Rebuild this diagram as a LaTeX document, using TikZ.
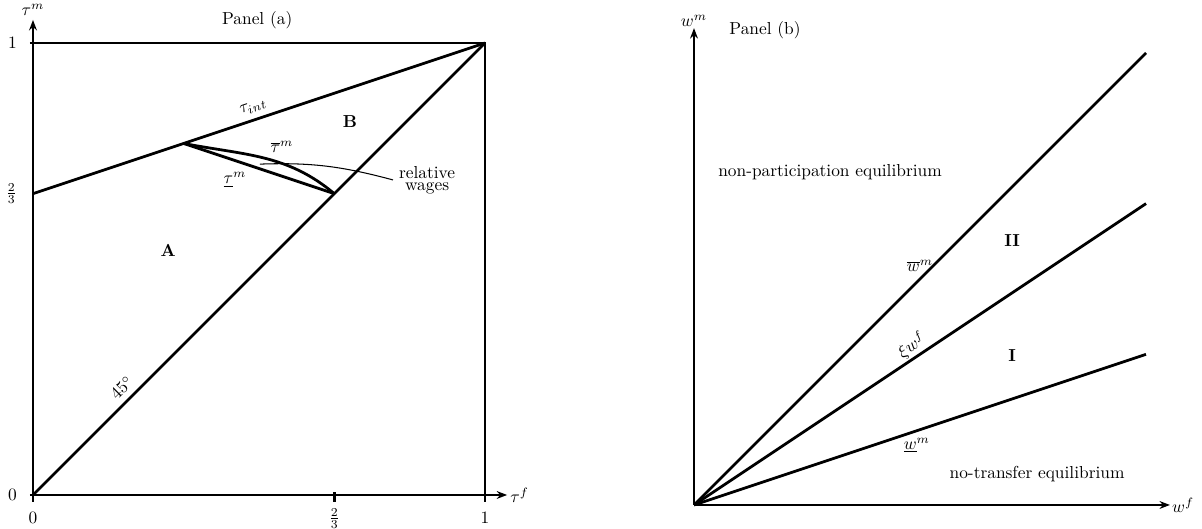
\documentclass[tikz,border=0pt]{standalone}
\usepackage{amsmath,amssymb}
\usetikzlibrary{arrows.meta}

\begin{document}
\begin{tikzpicture}[x=9.15cm, y=9.15cm,
  every node/.style={font=\normalsize},
  bold line/.style={line width=1.6pt},
  axis/.style={line width=1.6pt, -{Stealth[length=6pt,width=4.5pt]}},
  tick/.style={line width=1.2pt}]
  \useasboundingbox (-0.0730,-0.0752) rectangle (2.5863,1.0951);

  % Panel (a): axes
  \coordinate (O) at (0,0);
  \draw[axis] (O) -- (1.049,0) node[right, inner sep=1pt] (tauf) {$\tau^f$};
  \draw[axis] (O) -- (0,1.051) node[above, inner sep=1.5pt] (taum) {$\tau^m$};
  % ticks
  \draw[tick] (0,0) -- (0,-0.0155);
  \draw[tick, line width=2pt] (2/3,0.0066) -- (2/3,-0.0155);
  \draw[tick] (-0.007,0) -- (0,0);
  \draw[tick] (-0.007,1) -- (0,1);
  \node[anchor=base] (x0) at (0,-0.062) {$0$};
  \node[anchor=base] (x23) at (2/3,-0.062) {$\frac{2}{3}$};
  \node[anchor=base] (x1) at (1,-0.062) {$1$};
  \node[anchor=east] (y0) at (-0.022,0) {$0$};
  \node[anchor=east] (y23) at (-0.022,2/3) {$\frac{2}{3}$};
  \node[anchor=east] (y1) at (-0.022,1) {$1$};
  % unit box
  \draw[bold line] (0,1) -- (1,1) -- (1,-0.0155);
  % 45 degree line and tau_int
  \draw[bold line] (O) -- (1,1)
    node[pos=0.217, sloped, above] (deg) {$45^\circ$};
  \draw[bold line] (0,2/3) -- (1,1)
    node[pos=0.496, sloped, above] (tint) {$\tau_{int}$};
  % relative wage thresholds
  \coordinate (P) at (1/3,7/9);
  \coordinate (Q) at (2/3,2/3);
  \draw[bold line] (P) -- (Q);
  \draw[bold line] (P) to[out=-11, in=140] (Q);
  \node (tmup) at (0.551,0.770) {$\overline{\tau}^m$};
  \node (tmlo) at (0.447,0.697) {$\underline{\tau}^m$};
  \node[align=center] (rw) at (0.872,0.697) {relative\\[-5pt]wages};
  \coordinate (rwstart) at (0.502,0.732);
  \draw[line width=0.6pt] (rwstart) to[out=2, in=165] (rw.west);
  % regions
  \node (A) at (0.299,0.542) {\textbf{A}};
  \node (B) at (0.701,0.827) {\textbf{B}};
  \node (pa) at (0.496,1.051) {Panel (a)};

  % Panel (b)
  \begin{scope}[shift={(1.4624,-0.0221)}]
    \coordinate (Ob) at (0,0);
    \draw[axis] (Ob) -- (1.053,0) node[right, inner sep=0.5pt] (wf) {$w^f$};
    \draw[axis] (Ob) -- (0,1.055) node[above, inner sep=0pt] (wm) {$w^m$};
    \draw[bold line] (Ob) -- (1,1) node[pos=0.5, above] (wup) {$\overline{w}^m$};
    \draw[bold line] (Ob) -- (1,2/3)
      node[pos=0.497, sloped, above, inner sep=1pt] (xi) {$\xi w^f$};
    \draw[bold line] (Ob) -- (1,1/3) node[pos=0.493, below] (wlo) {$\underline{w}^m$};
    % regions
    \node (np) at (0.301,0.737) {non-participation equilibrium};
    \node (II) at (0.704,0.584) {\textbf{II}};
    \node (I) at (0.704,0.330) {\textbf{I}};
    \node (nt) at (0.759,0.069) {no-transfer equilibrium};
    \node (pb) at (0.157,1.051) {Panel (b)};
  \end{scope}
\end{tikzpicture}
\end{document}
